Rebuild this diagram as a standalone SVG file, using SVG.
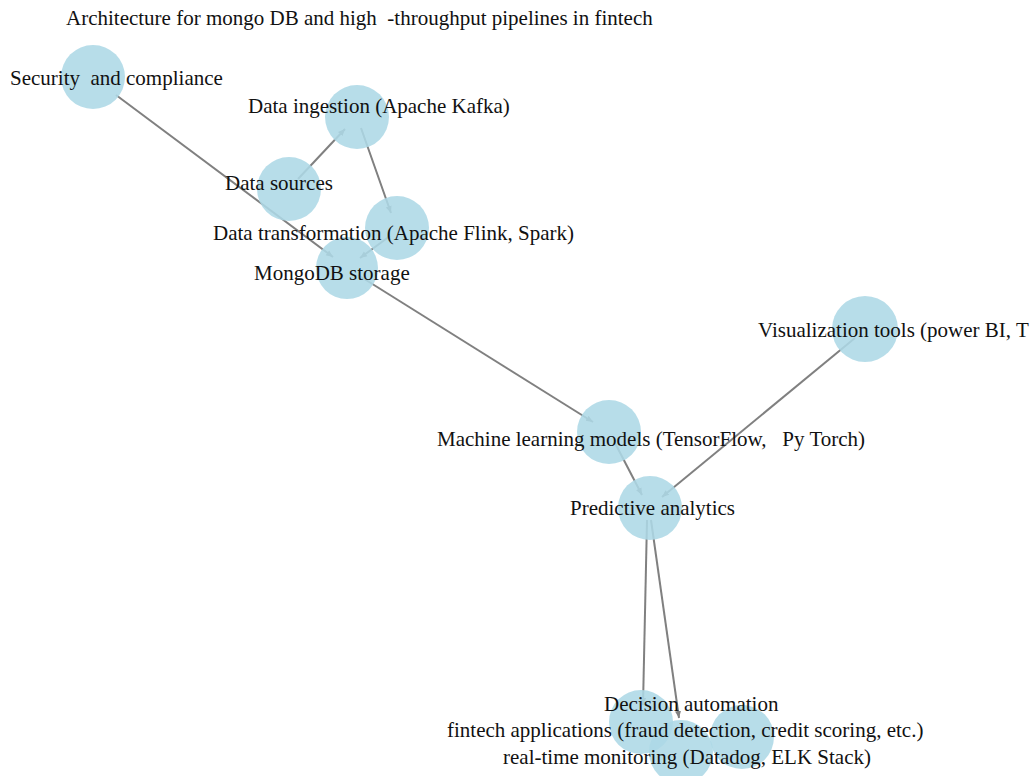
<svg xmlns="http://www.w3.org/2000/svg" width="1033" height="776" viewBox="0 0 1033 776">
<defs>
<marker id="ah" markerWidth="8" markerHeight="8" refX="7" refY="4" orient="auto" markerUnits="userSpaceOnUse">
<path d="M0,1 L7,4 L0,7 Z" fill="#808080"/>
</marker>
<style>
.e{stroke:#808080;stroke-width:2;fill:none;marker-end:url(#ah)}
.n{fill:#add8e6;fill-opacity:0.88}
</style>
</defs>
<rect width="1033" height="776" fill="#fff"/>
<g id="connectors">
<line class="e" x1="116" y1="95" x2="333" y2="257"/>
<line class="e" x1="298" y1="179" x2="345" y2="129"/>
<line class="e" x1="361" y1="128" x2="391" y2="213"/>
<line class="e" x1="390" y1="236" x2="360" y2="258"/>
<line class="e" x1="358" y1="275" x2="593" y2="422"/>
<line class="e" x1="615" y1="443" x2="642" y2="495"/>
<line class="e" x1="855" y1="338" x2="662" y2="497"/>
<line class="e" x1="647" y1="520" x2="643" y2="705"/>
<line class="e" x1="651" y1="520" x2="679" y2="718"/>
</g>
<text x="66" y="25" font-family="Liberation Serif" font-size="21" fill="#111" xml:space="preserve">Architecture for mongo DB and high  -throughput pipelines in fintech</text>
<g id="security"><circle class="n" cx="93" cy="77" r="32"/><text x="10" y="85" font-family="Liberation Serif" font-size="21" fill="#111" xml:space="preserve">Security  and compliance</text></g>
<g id="ingestion"><circle class="n" cx="357" cy="117" r="32"/><text x="248" y="113" font-family="Liberation Serif" font-size="21" fill="#111">Data ingestion (Apache Kafka)</text></g>
<g id="sources"><circle class="n" cx="289" cy="189" r="32"/><text x="225" y="190" font-family="Liberation Serif" font-size="21" fill="#111">Data sources</text></g>
<g id="transformation"><circle class="n" cx="397" cy="228" r="32"/></g>
<g id="mongodb"><circle class="n" cx="347" cy="268" r="31"/></g>
<text x="213" y="240" font-family="Liberation Serif" font-size="21" fill="#111">Data transformation (Apache Flink, Spark)</text>
<text x="254" y="280" font-family="Liberation Serif" font-size="21" fill="#111">MongoDB storage</text>
<g id="visualization"><circle class="n" cx="865" cy="329" r="33"/><text x="758" y="337" font-family="Liberation Serif" font-size="21" fill="#111">Visualization tools (power BI, T</text></g>
<g id="ml"><circle class="n" cx="609" cy="432" r="32"/><text x="437" y="446" font-family="Liberation Serif" font-size="21" fill="#111" xml:space="preserve">Machine learning models (TensorFlow,   Py Torch)</text></g>
<g id="predictive"><circle class="n" cx="650" cy="508" r="32"/><text x="570" y="515" font-family="Liberation Serif" font-size="21" fill="#111">Predictive analytics</text></g>
<g id="decision"><circle class="n" cx="641" cy="722" r="32"/></g>
<g id="fintech"><circle class="n" cx="742" cy="737" r="32"/></g>
<g id="monitoring"><circle class="n" cx="681" cy="752" r="32"/></g>
<text x="604" y="711" font-family="Liberation Serif" font-size="21" fill="#111">Decision automation</text>
<text x="447" y="737" font-family="Liberation Serif" font-size="21" fill="#111">fintech applications (fraud detection, credit scoring, etc.)</text>
<text x="503" y="764" font-family="Liberation Serif" font-size="21" fill="#111">real-time monitoring (Datadog, ELK Stack)</text>
</svg>
